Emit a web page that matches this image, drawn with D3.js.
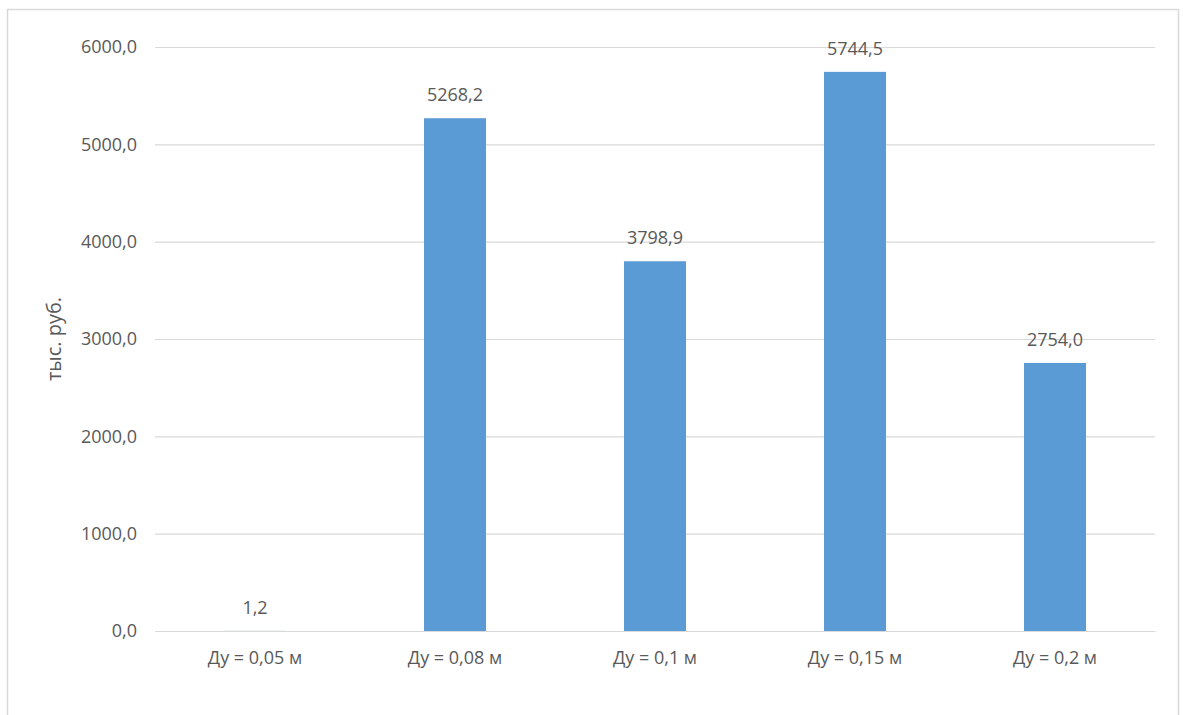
<!DOCTYPE html>
<html>
<head>
<meta charset="utf-8">
<script src="https://cdn.jsdelivr.net/npm/d3@7"></script>
<style>
  html, body { margin: 0; padding: 0; background: #fff; }
  svg { display: block; }
  text { font-family: "Open Sans", sans-serif; fill: #595959; }
</style>
</head>
<body>
<svg id="chart" width="1183" height="715"></svg>
<script>
const categories = ["Ду = 0,05 м", "Ду = 0,08 м", "Ду = 0,1 м", "Ду = 0,15 м", "Ду = 0,2 м"];
const values = [1.2, 5268.2, 3798.9, 5744.5, 2754.0];
const yTicks = [0, 1000, 2000, 3000, 4000, 5000, 6000];
const yTitle = "тыс. руб.";

const svg = d3.select("#chart");
const W = 1183, H = 715;
const m = { left: 155, right: 1155, top: 47, bottom: 631 };

// outer frame
svg.append("rect")
  .attr("x", 7.5).attr("y", 9.5)
  .attr("width", 1171).attr("height", 720)
  .attr("fill", "none").attr("stroke", "#d9d9d9").attr("stroke-width", 1.5);

const x = d3.scaleBand().domain(categories).range([m.left, m.right])
  .paddingInner(0.69).paddingOuter(0.345);
const y = d3.scaleLinear().domain([0, 6000]).range([m.bottom, m.top]);

const fmt = v => d3.format(".1f")(v).replace(".", ",");

// gridlines + y labels
const yAxis = d3.axisLeft(y).tickValues(yTicks).tickSize(-(m.right - m.left)).tickPadding(18).tickFormat(fmt);
const gy = svg.append("g").attr("transform", `translate(${m.left},0)`).call(yAxis);
gy.select(".domain").remove();
gy.selectAll(".tick line").attr("stroke", "#d9d9d9").attr("stroke-width", 1.2);
gy.selectAll(".tick text").attr("font-size", 18).attr("fill", "#595959")
  .attr("font-family", "Open Sans, sans-serif");

// bars
svg.append("g").selectAll("rect").data(values).join("rect")
  .attr("x", (d, i) => x(categories[i]))
  .attr("width", x.bandwidth())
  .attr("y", d => y(d))
  .attr("height", d => y(0) - y(d))
  .attr("fill", "#5b9bd5");

// value labels
svg.append("g").selectAll("text").data(values).join("text")
  .attr("x", (d, i) => x(categories[i]) + x.bandwidth() / 2)
  .attr("y", d => y(d) - 17)
  .attr("text-anchor", "middle")
  .attr("font-size", 18)
  .text(d => fmt(d));

// x axis
const xAxis = d3.axisBottom(x).tickSize(0).tickPadding(20);
const gx = svg.append("g").attr("transform", `translate(0,${m.bottom})`).call(xAxis);
gx.select(".domain").attr("stroke", "#d9d9d9").attr("stroke-width", 1.2);
gx.selectAll(".tick text").attr("font-size", 18).attr("fill", "#595959")
  .attr("font-family", "Open Sans, sans-serif");

// y title
svg.append("text")
  .attr("transform", `translate(61,339) rotate(-90)`)
  .attr("text-anchor", "middle")
  .attr("font-size", 20)
  .text(yTitle);
</script>
</body>
</html>
